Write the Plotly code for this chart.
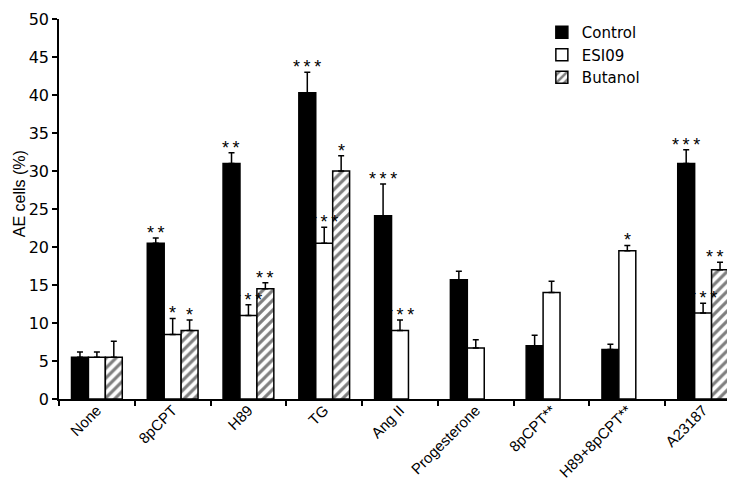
import plotly.graph_objects as go

categories = ["None", "8pCPT", "H89", "TG", "Ang II", "Progesterone", "8pCPT**", "H89+8pCPT**", "A23187"]
control = [5.5, 20.5, 31.0, 40.3, 24.1, 15.7, 7.0, 6.5, 31.0]
control_err = [0.7, 0.7, 1.4, 2.7, 4.2, 1.1, 1.4, 0.7, 1.8]
esi09 = [5.5, 8.5, 11.0, 20.5, 9.0, 6.7, 14.0, 19.5, 11.3]
esi09_err = [0.7, 2.1, 1.4, 2.1, 1.4, 1.1, 1.5, 0.7, 1.3]
butanol = [5.5, 9.0, 14.5, 30.0, None, None, None, None, 17.0]
butanol_err = [2.1, 1.4, 0.8, 2.0, None, None, None, None, 1.0]
control_sig = ["", "**", "**", "***", "***", "", "", "", "***"]
esi09_sig = ["", "*", "***", "***", "***", "", "", "*", "***"]
butanol_sig = ["", "*", "**", "*", "", "", "", "", "***"]
y_ticks = [0, 5, 10, 15, 20, 25, 30, 35, 40, 45, 50]

FONT = "Liberation Sans, Arial, sans-serif"
WIDE = "DejaVu Sans, sans-serif"

def zeros(vals):
    return [0 if v is not None else None for v in vals]

fig = go.Figure()
series = [
    ("Control", control, control_err, dict(color="black"), control_sig, -17),
    ("ESI09", esi09, esi09_err, dict(color="white"), esi09_sig, 0),
    ("Butanol", butanol, butanol_err,
     dict(color="white", pattern=dict(shape="/", fgcolor="black", bgcolor="white", size=7, solidity=0.45)),
     butanol_sig, 17),
]
annotations = []
for name, vals, errs, mk, sig, shift in series:
    fig.add_trace(go.Bar(
        name=name, x=categories, y=vals,
        marker=dict(**mk, line=dict(color="black", width=1.5)),
        error_y=dict(type="data", symmetric=False, array=errs, arrayminus=zeros(errs),
                     color="black", thickness=1.5, width=3),
    ))
    for c, v, e, s in zip(categories, vals, errs, sig):
        if s and v is not None:
            annotations.append(dict(
                x=c, y=v + e, xref="x", yref="y", text="\u2009".join(s),
                showarrow=False, xshift=shift, yanchor="bottom", yshift=-7,
                font=dict(family=FONT, size=18, color="black"),
            ))

annotations.append(dict(
    x=-0.058, y=0.54, xref="paper", yref="paper", text="AE cells (%)",
    textangle=-90, showarrow=False, xanchor="center", yanchor="middle",
    font=dict(family=FONT, size=16, color="black"),
))

fig.update_layout(
    width=735, height=482,
    margin=dict(l=51, r=2, t=5, b=91),
    paper_bgcolor="white", plot_bgcolor="white",
    barmode="group", bargap=0.33, bargroupgap=0,
    font=dict(family=FONT, size=16, color="black"),
    showlegend=True,
    legend=dict(x=0.708, y=1.008, xanchor="left", yanchor="top",
                font=dict(family=WIDE, size=15), bgcolor="rgba(0,0,0,0)",
                tracegroupgap=0, itemwidth=30),
    annotations=annotations,
    xaxis=dict(
        type="category", tickson="boundaries", ticks="outside", ticklen=5,
        tickwidth=1.5, tickcolor="black", showline=True, linecolor="black",
        linewidth=1.5, tickangle=-45, tickfont=dict(family=FONT, size=15),
        ticklabelstandoff=-5,
        showgrid=False, range=[-0.5, 8.5],
    ),
    yaxis=dict(
        range=[0, 50], tickvals=y_ticks, ticks="outside", ticklen=5,
        tickwidth=1.5, tickcolor="black", showline=True, linecolor="black",
        linewidth=1.5, showgrid=False, zeroline=False,
        tickfont=dict(family=WIDE, size=16), ticklabeloverflow="allow",
    ),
)

fig.write_html("out.html")
